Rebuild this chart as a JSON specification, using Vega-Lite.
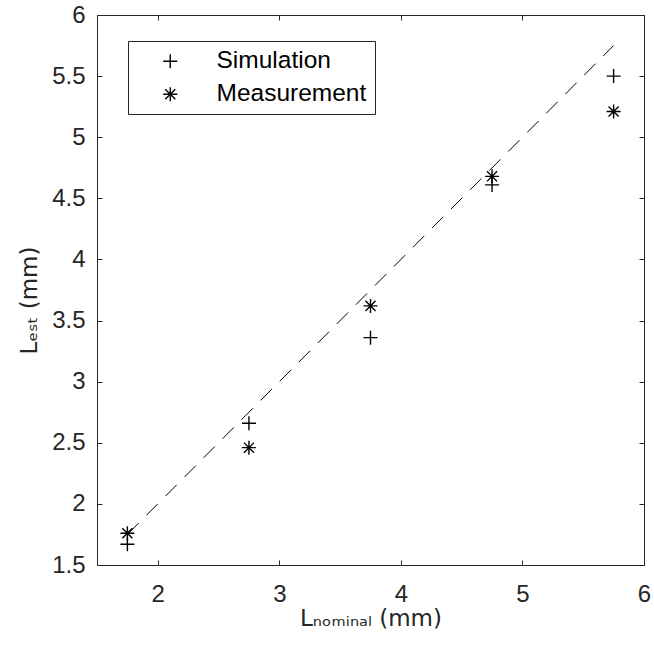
{
  "$schema": "https://vega.github.io/schema/vega-lite/v6.json",
  "width": 547,
  "height": 550,
  "autosize": {"type": "none"},
  "padding": {"left": 97, "top": 15, "right": 10, "bottom": 81},
  "background": "white",
  "config": {
    "font": "Liberation Sans",
    "view": {"stroke": "#262626", "strokeWidth": 1},
    "axis": {
      "domain": false,
      "grid": false,
      "tickColor": "#262626",
      "tickSize": 5,
      "offset": -5,
      "tickWidth": 1,
      "labelColor": "#262626",
      "labelFontSize": 24,
      "labelFont": "Liberation Sans",
      "labelFlush": false,
      "titleColor": "#262626",
      "titleFontSize": 23,
      "titleFont": "DejaVu Sans",
      "titleFontWeight": "normal"
    }
  },
  "layer": [
    {
      "data": {"values": [{"x": 1.75, "y": 1.75}, {"x": 5.75, "y": 5.75}]},
      "mark": {"type": "line", "color": "black", "strokeWidth": 1, "strokeDash": [16, 11]},
      "encoding": {
        "x": {"field": "x", "type": "quantitative", "scale": {"domain": [1.5, 6], "nice": false, "zero": false},
              "axis": {"orient": "top", "labels": false, "title": null, "values": [2, 3, 4, 5, 6]}},
        "y": {"field": "y", "type": "quantitative", "scale": {"domain": [1.5, 6], "nice": false, "zero": false},
              "axis": {"orient": "right", "labels": false, "title": null, "values": [1.5, 2, 2.5, 3, 3.5, 4, 4.5, 5, 5.5, 6]}}
      }
    },
    {
      "data": {"values": [
        {"series": "Simulation", "nominal": 1.75, "est": 1.67},
        {"series": "Simulation", "nominal": 2.75, "est": 2.66},
        {"series": "Simulation", "nominal": 3.75, "est": 3.36},
        {"series": "Simulation", "nominal": 4.75, "est": 4.61},
        {"series": "Simulation", "nominal": 5.75, "est": 5.50},
        {"series": "Measurement", "nominal": 1.75, "est": 1.76},
        {"series": "Measurement", "nominal": 2.75, "est": 2.46},
        {"series": "Measurement", "nominal": 3.75, "est": 3.62},
        {"series": "Measurement", "nominal": 4.75, "est": 4.68},
        {"series": "Measurement", "nominal": 5.75, "est": 5.21}
      ]},
      "mark": {"type": "point", "filled": false, "stroke": "black", "strokeWidth": 1.4, "size": 196, "opacity": 1},
      "encoding": {
        "x": {"field": "nominal", "type": "quantitative", "scale": {"domain": [1.5, 6], "nice": false, "zero": false},
              "axis": {"orient": "bottom", "values": [2, 3, 4, 5, 6], "labelPadding": 17,
                       "title": "Lₙₒₘᵢₙₐₗ (mm)", "titleBaseline": "alphabetic", "titleY": 65}},
        "y": {"field": "est", "type": "quantitative", "scale": {"domain": [1.5, 6], "nice": false, "zero": false},
              "axis": {"orient": "left", "values": [1.5, 2, 2.5, 3, 3.5, 4, 4.5, 5, 5.5, 6], "format": ".1~f", "labelPadding": 12,
                       "title": "Lₑₛₜ (mm)", "titleBaseline": "alphabetic", "titleX": -66, "titleY": 285}},
        "shape": {"field": "series", "type": "nominal",
                  "scale": {"domain": ["Simulation", "Measurement"],
                            "range": ["M-1,0H1M0,-1V1", "M-1,0H1M0,-1V1M-0.72,-0.72L0.72,0.72M-0.72,0.72L0.72,-0.72"]},
                  "legend": {"orient": "none", "legendX": 31, "legendY": 26, "title": null,
                             "padding": 8, "rowPadding": 8,
                             "strokeColor": "#262626", "fillColor": "white",
                             "symbolSize": 196, "symbolStrokeColor": "black", "symbolStrokeWidth": 1.4,
                             "symbolFillColor": "transparent", "symbolOffset": 22, "labelOffset": 34,
                             "labelFontSize": 24.5, "labelColor": "black", "labelFont": "Liberation Sans", "labelLimit": 400}}
      }
    }
  ],
  "resolve": {"axis": {"x": "independent", "y": "independent"}}
}
